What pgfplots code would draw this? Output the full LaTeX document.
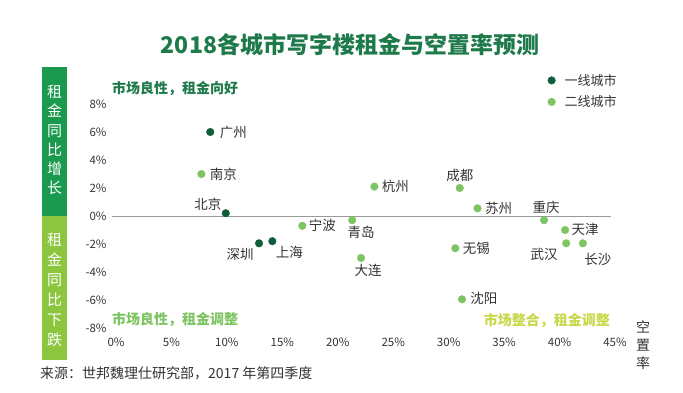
\documentclass[border=0pt]{standalone}
\usepackage{pgfplots}
\pgfplotsset{compat=1.18}
\usepackage{fontspec}
\setmainfont{Noto Sans CJK SC}
\definecolor{darkdot}{HTML}{0E5E3A}
\definecolor{lightdot}{HTML}{7DC462}
\definecolor{bandtop}{HTML}{1A9A4E}
\definecolor{bandbot}{HTML}{8CC63F}
\definecolor{titlec}{HTML}{1E7A4A}
\definecolor{yellowg}{HTML}{C8D84A}
\definecolor{txt}{HTML}{333333}
\begin{document}
\begin{tikzpicture}
\useasboundingbox (0,0) rectangle (683bp,393bp);
\begin{axis}[
  at={(116bp,65bp)}, anchor=south west,
  width=499bp, height=224bp, scale only axis,
  xmin=0, xmax=45, ymin=-8, ymax=8,
  axis line style={draw=none},
  major tick length=0pt,
  clip=false,
  xtick={0,5,...,45}, ytick={-8,-6,...,8},
  xticklabel={\pgfmathprintnumber{\tick}\%},
  yticklabel={\pgfmathprintnumber{\tick}\%},
  /pgf/number format/assume math mode=true,
  tick label style={font=\fontsize{11.5bp}{13bp}\selectfont, text=txt},
  xticklabel style={anchor=north, yshift=-6bp},
  yticklabel style={anchor=east, xshift=-6bp},
  legend style={at={(0.859,1.152)}, anchor=north west, draw=none, fill=none,
    font=\fontsize{13bp}{15bp}\selectfont, text=txt, row sep=5bp},
  legend cell align=left,
  legend image code/.code={\path[draw=none,fill=none] (-3.8bp,-3.8bp) rectangle (11bp,3.8bp); \draw[#1] plot coordinates {(0bp,0bp)};},
]
\draw[gray!80, line width=0.8bp] (axis cs:-0.36,0) -- (axis cs:44.6,0);
\addplot[only marks, mark=*, mark size=3.8bp, draw=darkdot, fill=darkdot] coordinates {
  (8.5,6.0) (9.9,0.2) (12.9,-1.95) (14.1,-1.8)
};
\addlegendentry{一线城市}
\addplot[only marks, mark=*, mark size=3.8bp, draw=lightdot, fill=lightdot] coordinates {
  (7.7,3.0) (16.8,-0.7) (21.3,-0.3) (22.1,-3.0) (23.3,2.1) (31.0,2.0)
  (32.6,0.55) (38.6,-0.3) (40.5,-1.0) (40.6,-1.95) (42.1,-1.95)
  (30.6,-2.3) (31.2,-5.95)
};
\addlegendentry{二线城市}
\begin{scope}[every node/.style={font=\fontsize{13.5bp}{15bp}\selectfont, text=txt}]
\node[anchor=west, xshift=6bp] at (axis cs:8.5,6.0) {广州};
\node[anchor=west, xshift=5bp] at (axis cs:7.7,3.0) {南京};
\node[anchor=south east, xshift=-1bp, yshift=-1bp] at (axis cs:9.9,0.2) {北京};
\node[anchor=west, xshift=3bp] at (axis cs:16.8,-0.7) {宁波};
\node[anchor=north east, xshift=-2bp, yshift=-1bp] at (axis cs:12.9,-1.95) {深圳};
\node[anchor=north west, xshift=0bp, yshift=-1bp] at (axis cs:14.1,-1.8) {上海};
\node[anchor=north, xshift=9bp, yshift=-2bp] at (axis cs:21.3,-0.3) {青岛};
\node[anchor=north, xshift=7bp, yshift=-3bp] at (axis cs:22.1,-3.0) {大连};
\node[anchor=west, xshift=4bp] at (axis cs:23.3,2.1) {杭州};
\node[anchor=south, yshift=3bp] at (axis cs:31.0,2.0) {成都};
\node[anchor=west, xshift=4bp] at (axis cs:32.6,0.55) {苏州};
\node[anchor=south, xshift=2bp, yshift=3bp] at (axis cs:38.6,-0.3) {重庆};
\node[anchor=west, xshift=3bp, yshift=1bp] at (axis cs:40.5,-1.0) {天津};
\node[anchor=north east, xshift=-5bp, yshift=-1bp] at (axis cs:40.6,-1.95) {武汉};
\node[anchor=north west, xshift=-2bp, yshift=-6bp] at (axis cs:42.1,-1.95) {长沙};
\node[anchor=west, xshift=4bp] at (axis cs:30.6,-2.3) {无锡};
\node[anchor=west, xshift=5bp, yshift=1bp] at (axis cs:31.2,-5.95) {沈阳};
\end{scope}
\end{axis}
% title
\node[font=\fontsize{23bp}{25bp}\selectfont\bfseries, text=titlec] at (350bp,348bp) {2018各城市写字楼租金与空置率预测};
% side bands
\fill[bandtop] (42bp,177bp) rectangle (67bp,326bp);
\fill[bandbot] (42bp,33bp) rectangle (67bp,177bp);
\node[text=white, align=center, font=\fontsize{15bp}{19.2bp}\selectfont, inner sep=0pt] at (54.5bp,253bp) {租\\金\\同\\比\\增\\长};
\node[text=white, align=center, font=\fontsize{15bp}{20bp}\selectfont, inner sep=0pt] at (54.5bp,103bp) {租\\金\\同\\比\\下\\跌};
% quadrant notes
\node[anchor=west, inner sep=0pt, text=titlec, font=\fontsize{14bp}{16bp}\selectfont\bfseries] at (112bp,304bp) {市场良性，租金向好};
\node[anchor=west, inner sep=0pt, text=lightdot, font=\fontsize{14bp}{16bp}\selectfont\bfseries] at (112bp,73bp) {市场良性，租金调整};
\node[anchor=east, inner sep=0pt, text=yellowg, font=\fontsize{14bp}{16bp}\selectfont\bfseries] at (610bp,72bp) {市场整合，租金调整};
% axis title
\node[text=txt, align=center, font=\fontsize{14bp}{18bp}\selectfont, inner sep=0pt] at (643bp,48bp) {空\\置\\率};
% source
\node[anchor=west, inner sep=0pt, text=txt, font=\fontsize{14bp}{16bp}\selectfont] at (40bp,20bp) {来源：世邦魏理仕研究部，2017 年第四季度};
\end{tikzpicture}
\end{document}
